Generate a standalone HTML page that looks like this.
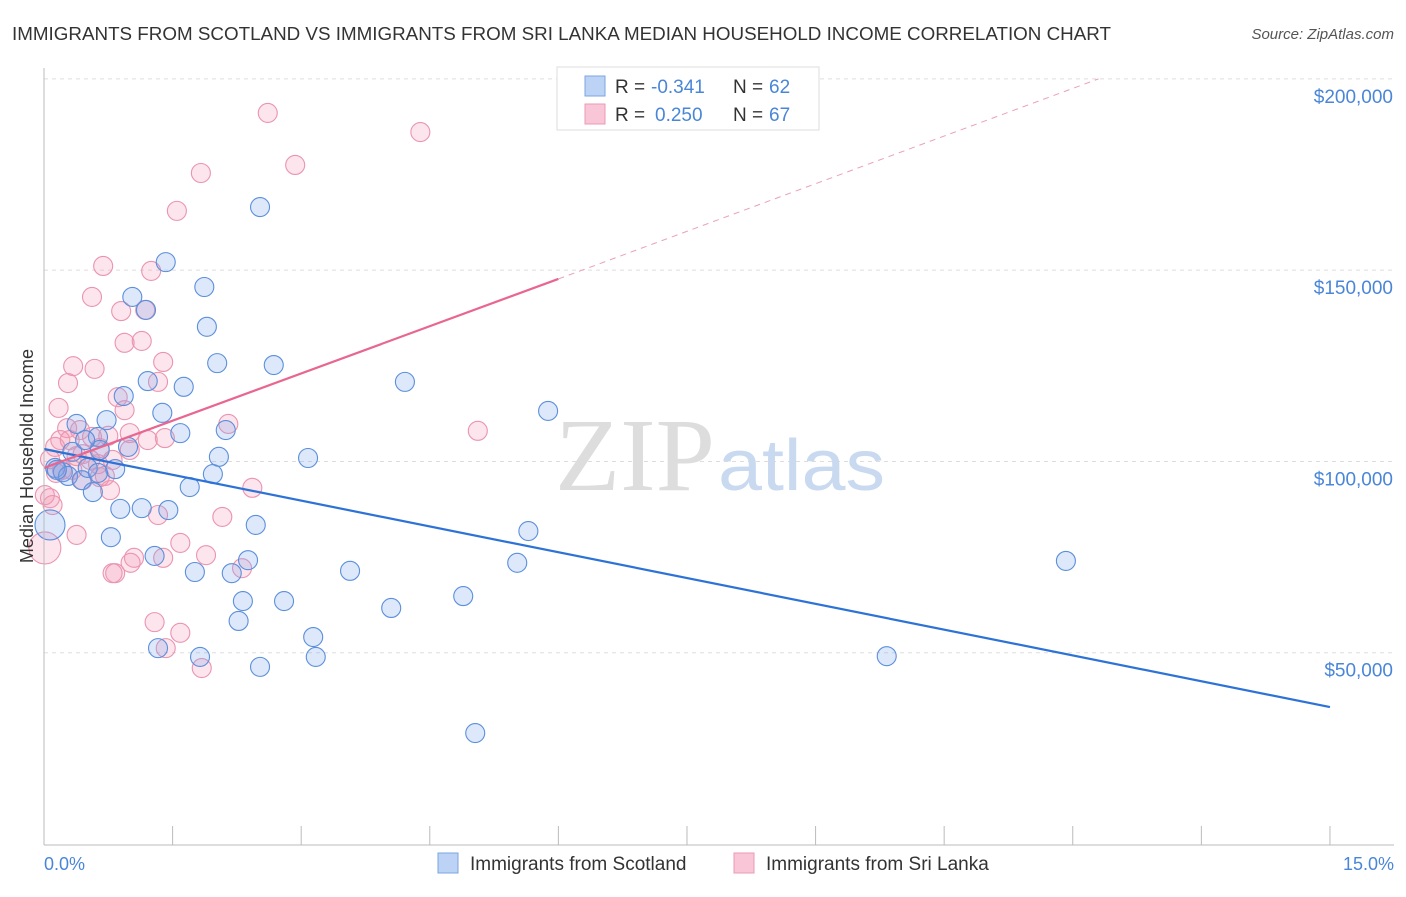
<!DOCTYPE html>
<html><head><meta charset="utf-8"><style>
body{margin:0;background:#fff;font-family:"Liberation Sans",sans-serif}
</style></head><body>
<svg width="1406" height="892" viewBox="0 0 1406 892" xmlns="http://www.w3.org/2000/svg">
<text x="12" y="40" font-size="18" fill="#333" textLength="1099" lengthAdjust="spacingAndGlyphs">IMMIGRANTS FROM SCOTLAND VS IMMIGRANTS FROM SRI LANKA MEDIAN HOUSEHOLD INCOME CORRELATION CHART</text>
<text x="1394" y="39" font-size="15" fill="#555" font-style="italic" text-anchor="end">Source: ZipAtlas.com</text>
<g id="grid"></g>
<text x="555" y="490" font-size="104" fill="#ddd" textLength="160" lengthAdjust="spacingAndGlyphs" font-family="Liberation Serif">ZIP</text>
<text x="718" y="490" font-size="72" fill="#c9d9f0" textLength="167" lengthAdjust="spacingAndGlyphs">atlas</text>
<g id="pts"></g>
<g id="lines"></g>
<line x1="44" y1="68" x2="44" y2="845" stroke="#bbb"/>
<line x1="44" y1="845" x2="1394" y2="845" stroke="#bbb"/>
<g id="ticks"></g>
<text x="33" y="456" font-size="18" fill="#333" text-anchor="middle" transform="rotate(-90 33 456)">Median Household Income</text>
<text x="44" y="870" font-size="18" fill="#4a86d8">0.0%</text>
<text x="1394" y="870" font-size="18" fill="#4a86d8" text-anchor="end">15.0%</text>
<g>
<rect x="557" y="67" width="262" height="63" fill="#fff" stroke="#ddd"/>
<rect x="585" y="76" width="20" height="20" fill="#bcd3f5" stroke="#7ba5e0"/>
<rect x="585" y="104" width="20" height="20" fill="#f8c6d6" stroke="#eb9ab4"/>
<text x="615" y="93" font-size="19" fill="#333">R =</text>
<text x="651" y="93" font-size="19" fill="#4a86d8">-0.341</text>
<text x="733" y="93" font-size="19" fill="#333">N =</text>
<text x="769" y="93" font-size="19" fill="#4a86d8">62</text>
<text x="615" y="121" font-size="19" fill="#333">R =</text>
<text x="655" y="121" font-size="19" fill="#4a86d8">0.250</text>
<text x="733" y="121" font-size="19" fill="#333">N =</text>
<text x="769" y="121" font-size="19" fill="#4a86d8">67</text>
</g>
<g>
<rect x="438" y="853" width="20" height="20" fill="#bcd3f5" stroke="#7ba5e0"/>
<text x="470" y="870" font-size="19" fill="#333">Immigrants from Scotland</text>
<rect x="734" y="853" width="20" height="20" fill="#f8c6d6" stroke="#eb9ab4"/>
<text x="766" y="870" font-size="19" fill="#333">Immigrants from Sri Lanka</text>
</g>
</svg>
<script>
const yTicks=[50000,100000,150000,200000];
const yTickLabels=["$50,000","$100,000","$150,000","$200,000"];
const scotX=[1.42,2.52,1.87,1.03,1.19,1.90,2.02,2.68,1.21,1.63,4.21,0.93,5.88,1.38,0.73,0.38,1.59,2.12,0.63,0.98,0.65,0.33,2.04,3.08,0.13,0.83,0.22,1.97,0.28,0.44,1.70,0.57,0.89,1.14,1.45,2.47,5.65,0.78,0.07,1.29,2.38,5.52,11.92,1.76,2.19,3.57,2.32,2.80,4.05,4.89,2.27,3.14,1.33,1.82,3.17,9.83,2.52,5.03,0.15,0.51,0.63,0.48];
const scotY=[152.1,166.5,145.6,143.0,139.6,135.2,125.7,125.2,121.0,119.5,120.8,117.1,113.2,112.7,110.8,109.8,107.4,108.2,106.4,103.8,103.0,102.5,101.2,100.9,98.3,98.0,97.2,96.7,96.2,95.1,93.3,92.0,87.6,87.8,87.3,83.4,81.8,80.2,83.4,75.3,74.2,73.5,74.0,71.1,70.8,71.4,63.5,63.5,61.7,64.8,58.3,54.1,51.2,48.9,48.9,49.1,46.3,29.0,97.8,98.3,97.0,105.6];
const sriX=[2.61,4.39,1.83,2.93,1.55,0.69,1.25,0.56,0.90,1.18,0.94,1.14,1.39,0.34,0.59,0.28,1.33,0.86,0.17,0.94,2.15,0.27,0.42,1.00,5.06,0.56,1.21,0.75,1.41,0.19,0.13,0.65,0.38,0.45,0.07,0.63,0.71,0.45,0.77,2.43,0.07,0.10,1.33,2.08,0.38,1.59,1.05,1.39,1.89,2.31,1.01,0.83,0.80,1.29,1.59,1.42,1.84,0.01,0.21,0.54,0.33,0.80,0.01,1.00,0.30,0.14,0.65];
const sriY=[191.1,186.1,175.4,177.5,165.5,151.1,149.8,143.0,139.3,139.6,131.0,131.5,126.0,124.9,124.2,120.5,120.8,116.8,114.0,113.4,109.8,108.7,108.2,107.4,108.0,106.4,105.6,106.7,106.1,105.6,103.8,103.5,101.4,101.9,100.6,99.3,96.2,95.1,92.5,93.1,90.4,88.6,86.0,85.5,80.8,78.7,74.8,74.8,75.5,72.1,73.5,70.8,70.8,58.0,55.2,51.2,46.0,77.4,97.8,100.4,97.8,100.4,91.2,103.0,105.6,97.0,95.9];
const scotBig=[38];const sriBig=[57];
const scotTrend=[[0,103250],[15,35800]];
const sriTrend=[[0,98300],[6,147700],[12.3,200000]];
const X=v=>44+v*85.73, Y=v=>844-v/261.4;
const NS="http://www.w3.org/2000/svg";
function mk(t,a,p){const e=document.createElementNS(NS,t);for(const k in a)e.setAttribute(k,a[k]);p.appendChild(e);return e;}
const grid=document.getElementById('grid'),ticks=document.getElementById('ticks');
yTicks.forEach((v,i)=>{
 const l=mk('line',{x1:44,x2:1394,y1:Y(v),y2:Y(v),stroke:'#ddd','stroke-dasharray':'4,4'},grid);
 
 
 const t=mk('text',{x:1393,y:Y(v)+24,'font-size':19,fill:'#4a86d8','text-anchor':'end'},ticks);
 t.textContent=yTickLabels[i];
 
 
});
for(let i=1;i<=10;i++){
 const t=mk('line',{x1:X(i*1.5),x2:X(i*1.5),y1:826,y2:845,stroke:'#bbb'},ticks);
 
 
}
const pts=document.getElementById('pts');
sriX.forEach((x,i)=>{
 const c=mk('circle',{cx:X(x),cy:Y(sriY[i]*1000),r:sriBig.includes(i)?16:9.5,fill:'rgba(244,150,180,0.25)',stroke:'#eb94b0','stroke-width':1.1},pts);
 
 
});
scotX.forEach((x,i)=>{
 const c=mk('circle',{cx:X(x),cy:Y(scotY[i]*1000),r:scotBig.includes(i)?15:9.5,fill:'rgba(120,165,235,0.25)',stroke:'#5b8fdb','stroke-width':1.1},pts);
 
 
});
const lines=document.getElementById('lines');
let l=mk('line',{x1:X(scotTrend[0][0]),y1:Y(scotTrend[0][1]),x2:X(scotTrend[1][0]),y2:Y(scotTrend[1][1]),stroke:'#2d72d6','stroke-width':2.2},lines);


l=mk('line',{x1:X(sriTrend[0][0]),y1:Y(sriTrend[0][1]),x2:X(sriTrend[1][0]),y2:Y(sriTrend[1][1]),stroke:'#e8668f','stroke-width':2.2},lines);


l=mk('line',{x1:X(sriTrend[1][0]),y1:Y(sriTrend[1][1]),x2:X(sriTrend[2][0]),y2:Y(sriTrend[2][1]),stroke:'#eaa0b8','stroke-width':1,'stroke-dasharray':'6,5'},lines);


</script>
</body></html>
